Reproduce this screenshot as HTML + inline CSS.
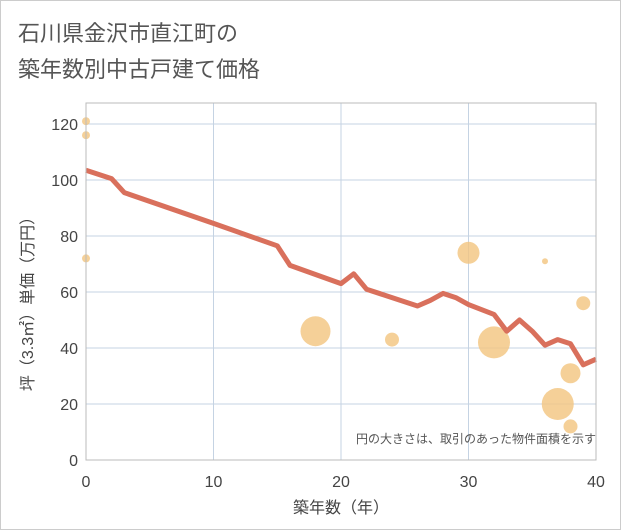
<!DOCTYPE html>
<html><head><meta charset="utf-8"><style>
body{margin:0;background:#fff;font-family:"Liberation Sans","Noto Sans CJK JP",sans-serif}
</style></head><body>
<svg width="621" height="530" style="display:block">
<rect x="0.5" y="0.5" width="620" height="529" fill="#fff" stroke="#ccc"/>
<text x="18" y="41" font-size="22" fill="#555">石川県金沢市直江町の</text>
<text x="18" y="77" font-size="22" fill="#555">築年数別中古戸建て価格</text>
<g id="grid"></g><g id="bubbles"></g><g id="line"></g><g id="axes"></g>
<text x="596" y="443" font-size="12" fill="#555" text-anchor="end">円の大きさは、取引のあった物件面積を示す</text>
<text x="341" y="513" font-size="16" fill="#444" text-anchor="middle">築年数（年）</text>
<text transform="translate(33,300) rotate(-90)" font-size="16" fill="#444" text-anchor="middle">坪（3.3㎡）単価（万円）</text>
</svg>
<script>
const xTicks=[0,10,20,30,40];
const yTicks=[0,20,40,60,80,100,120];
const lineYears=[0,2,3,10,15,16,20,21,22,26,27,28,29,30,32,33,34,35,36,37,38,39,40];
const linePrices=[103.5,100.5,95.5,84.5,76.5,69.5,63,66.5,61,55,57,59.5,58,55.5,52,46,50,46,41,43,41.5,34,36];
const bubbleYears=[0,0,0,18,24,30,32,36,37,38,38,39];
const bubblePrices=[121,116,72,46,43,74,42,71,20,31,12,56];
const bubbleSizes=[4,4,4,15,7,11,16,3,16,10,7,7];
const ns="http://www.w3.org/2000/svg";
const X0=86,X1=596,Y0=460,YT=103;
const sx=v=>X0+(v-0)/40*(X1-X0);
const sy=v=>Y0-v*2.8;
function mk(t,a,p){const e=document.createElementNS(ns,t);for(const k in a)e.setAttribute(k,a[k]);document.getElementById(p).appendChild(e);return e;}
xTicks.forEach(t=>{
 const g=mk('line',{x1:sx(t),x2:sx(t),y1:YT,y2:Y0,stroke:'#c5d3e3'},'grid');
 
 
 const l=mk('text',{x:sx(t),y:487,'font-size':16,fill:'#444','text-anchor':'middle'},'axes');l.textContent=t;
 
 
});
yTicks.forEach(t=>{
 const g=mk('line',{x1:X0,x2:X1,y1:sy(t),y2:sy(t),stroke:'#c5d3e3'},'grid');
 
 
 const l=mk('text',{x:78,y:sy(t)+6,'font-size':16,fill:'#444','text-anchor':'end'},'axes');l.textContent=t;
 
 
});
const b=mk('rect',{x:X0,y:YT,width:X1-X0,height:Y0-YT,fill:'none',stroke:'#bbb'},'axes');


bubbleYears.forEach((yr,i)=>{
 const c=mk('circle',{cx:sx(yr),cy:sy(bubblePrices[i]),r:bubbleSizes[i],fill:'#f3c47e','fill-opacity':0.8},'bubbles');
 
 
});
const p=mk('polyline',{points:lineYears.map((y,i)=>sx(y)+','+sy(linePrices[i])).join(' '),fill:'none',stroke:'#d9705c','stroke-width':5,'stroke-linejoin':'round'},'line');


</script>
</body></html>
